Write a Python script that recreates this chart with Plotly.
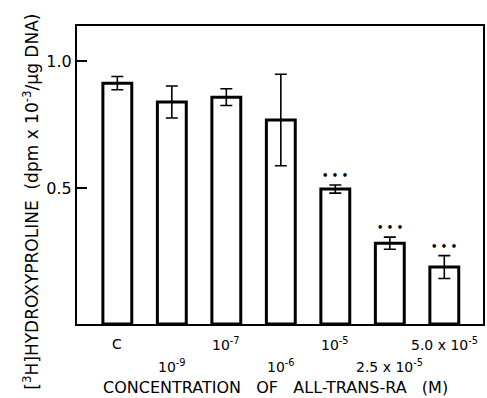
import plotly.graph_objects as go

categories = ["C", "10<sup>-9</sup>", "10<sup>-7</sup>", "10<sup>-6</sup>", "10<sup>-5</sup>",
              "2.5 x 10<sup>-5</sup>", "5.0 x 10<sup>-5</sup>"]
values = [0.913, 0.839, 0.858, 0.768, 0.496, 0.283, 0.189]
errors = [0.026, 0.063, 0.033, 0.180, 0.016, 0.024, 0.045]
significant = [False, False, False, False, True, True, True]
ytick_vals = [0.5, 1.0]
ytick_text = ["0.5", "1.0"]

YMIN, YMAX = -0.035, 1.138
FONT = "DejaVu Sans, Verdana, sans-serif"
xs = list(range(len(categories)))

fig = go.Figure()
fig.add_trace(go.Bar(
    x=xs,
    y=[v - YMIN for v in values],
    base=YMIN,
    width=0.53,
    marker=dict(color="white", line=dict(color="black", width=3)),
    error_y=dict(type="data", array=errors, color="black", thickness=1.6, width=6),
    showlegend=False,
))

annotations = []
# x tick labels in two staggered rows
for i, lab in enumerate(categories):
    annotations.append(dict(
        x=i, xref="x", y=-0.067 if i % 2 == 0 else -0.141, yref="paper",
        text=lab, showarrow=False, xanchor="center", yanchor="middle",
        font=dict(family=FONT, size=14, color="black"),
    ))
# significance dots
for i, (v, e, s) in enumerate(zip(values, errors, significant)):
    if s:
        annotations.append(dict(
            x=i, xref="x", y=v + e, yref="y", text="<b>• • •</b>", showarrow=False,
            xanchor="center", yanchor="bottom", yshift=2,
            font=dict(family=FONT, size=10, color="black"),
        ))
# axis titles
annotations.append(dict(
    x=0.488, xref="paper", y=-0.212, yref="paper",
    text="CONCENTRATION   OF   ALL-TRANS-RA   (M)", showarrow=False,
    xanchor="center", yanchor="middle",
    font=dict(family=FONT, size=16, color="black"),
))
annotations.append(dict(
    x=-0.1152, xref="paper", y=0.411, yref="paper",
    text="[<sup>3</sup>H]HYDROXYPROLINE  (dpm x 10<sup>-3</sup>/μg DNA)",
    showarrow=False, textangle=-90, xanchor="center", yanchor="middle",
    font=dict(family=FONT, size=17, color="black"),
))

fig.update_layout(
    width=487, height=398,
    margin=dict(l=77, r=2, t=26, b=74),
    paper_bgcolor="white", plot_bgcolor="white",
    annotations=annotations,
    xaxis=dict(range=[-0.74, 6.71], showticklabels=False, ticks="",
               showline=True, linecolor="black", linewidth=2, mirror=True,
               showgrid=False, zeroline=False),
    yaxis=dict(range=[YMIN, YMAX], tickvals=ytick_vals, ticktext=ytick_text,
               ticks="inside", ticklen=10, tickwidth=2, tickcolor="black",
               tickfont=dict(family=FONT, size=16, color="black"),
               showline=True, linecolor="black", linewidth=2, mirror=True,
               showgrid=False, zeroline=False),
)

fig.write_html("out.html", config={"displayModeBar": False},
               post_script="document.body.style.margin='0';document.body.style.overflow='hidden';")
